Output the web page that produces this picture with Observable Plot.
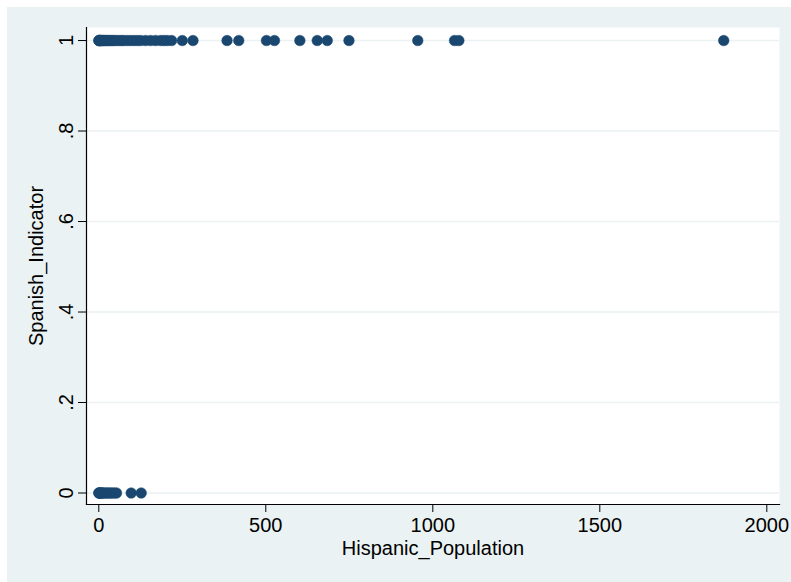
<!DOCTYPE html>
<html>
<head>
<meta charset="utf-8">
<script src="https://cdn.jsdelivr.net/npm/d3@7"></script>
<script src="https://cdn.jsdelivr.net/npm/@observablehq/plot@0.6"></script>
<style>
  html, body { margin: 0; padding: 0; background: #ffffff; }
  #wrap { position: relative; width: 791px; height: 582px; overflow: hidden; }
  #bg { position: absolute; left: 7px; top: 7px; width: 784px; height: 575px; background: #EAF2F3; }
  #chart { position: absolute; left: 0; top: 0; }
</style>
</head>
<body>
<div id="wrap"><div id="bg"></div><div id="chart"></div></div>
<script>
// Hispanic_Population values for observations with Spanish_Indicator = 1
const hispanicWithSpanish = [0, 1, 2, 3, 5, 7, 9, 12, 15, 18, 22, 26, 30, 35, 40, 45, 52, 60, 68, 75, 85, 95, 105, 115, 125, 140, 155, 170, 185, 195, 205, 218, 250, 282, 384, 419, 502, 526, 602, 654, 684, 749, 955, 1065, 1078, 1871];
// Hispanic_Population values for observations with Spanish_Indicator = 0
const hispanicWithoutSpanish = [0, 1, 2, 4, 6, 9, 12, 15, 20, 25, 30, 35, 40, 47, 53, 97, 127];
const xTicks = [0, 500, 1000, 1500, 2000];
const yTicks = [0, 0.2, 0.4, 0.6, 0.8, 1];
const yTickLabels = ["0", ".2", ".4", ".6", ".8", "1"];

const data = [
  ...hispanicWithSpanish.map(v => ({Hispanic_Population: v, Spanish_Indicator: 1})),
  ...hispanicWithoutSpanish.map(v => ({Hispanic_Population: v, Spanish_Indicator: 0}))
];

const chart = Plot.plot({
  width: 791,
  height: 582,
  marginLeft: 86,
  marginRight: 12,
  marginTop: 27,
  marginBottom: 78,
  style: {background: "transparent", fontFamily: "'Liberation Sans', Arial, sans-serif", fontSize: "20px", color: "#000"},
  x: {domain: [-36.8, 2038], ticks: xTicks},
  y: {domain: [-0.0254, 1.0288], ticks: yTicks},
  marks: [
    Plot.frame({fill: "white", stroke: null}),
    Plot.ruleY(yTicks, {stroke: "#EAF2F3", strokeWidth: 1.5}),
    Plot.axisX({ticks: xTicks, tickSize: 8, tickPadding: 5, tickFormat: d => String(d), label: "Hispanic_Population", labelAnchor: "center", labelArrow: "none", labelOffset: 50, stroke: "#000", fontSize: 20}),
    Plot.axisY({ticks: yTicks, tickSize: 8, tickPadding: 6, tickRotate: -90, tickFormat: d => yTickLabels[yTicks.indexOf(d)], label: "Spanish_Indicator", labelAnchor: "center", labelArrow: "none", labelOffset: 58, stroke: "#000", fontSize: 20}),
    Plot.frame({anchor: "left", stroke: "#000", strokeWidth: 1.2}),
    Plot.frame({anchor: "bottom", stroke: "#000", strokeWidth: 1.2}),
    Plot.dot(data, {x: "Hispanic_Population", y: "Spanish_Indicator", r: 5.3, fill: "#1A476F", stroke: "#1A476F", strokeWidth: 0.5})
  ]
});
document.getElementById("chart").appendChild(chart);
</script>
</body>
</html>
